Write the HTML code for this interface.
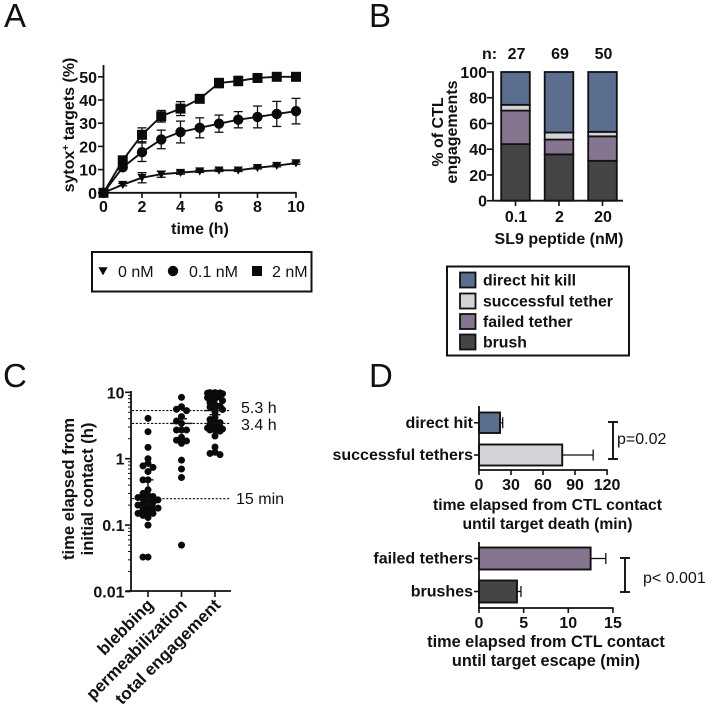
<!DOCTYPE html>
<html lang="en">
<head>
<meta charset="utf-8">
<title>CTL engagement figure</title>
<style>
html,body{margin:0;padding:0;background:#fff;width:707px;height:707px;overflow:hidden}
svg{display:block;font-family:"Liberation Sans",Arial,sans-serif;fill:#111;filter:blur(0.35px)}
.b{font-weight:bold;font-size:16px}
.r{font-size:16px}
.p{font-size:33px}
.ct{font-weight:bold;font-size:16.6px}
.cx{font-weight:bold;font-size:17px}
.d1{font-weight:bold;font-size:15.7px}
.d2{font-weight:bold;font-size:16.3px}
</style>
</head>
<body>
<svg id="fig" width="707" height="707" viewBox="0 0 707 707" xmlns="http://www.w3.org/2000/svg">
  <text class="p" x="4" y="27">A</text>
  <text class="p" x="369" y="27">B</text>
  <text class="p" x="3" y="387">C</text>
  <text class="p" x="369" y="387">D</text>
  <g id="panelA"></g>
  <g id="panelB"></g>
  <g id="panelC"></g>
  <g id="panelD1"></g>
  <g id="panelD2"></g>
</svg>
<script>
/* Panel A data */
const timeHours = [0,1,2,3,4,5,6,7,8,9,10];
const a0nM = [0,3.5,6.5,8,8.7,9.3,9.7,9.7,10.8,11.7,12.8];
const a0nMErr = [0,0.5,2.2,1.3,0.7,0.5,0.5,0.5,0.5,0.5,0.5];
const a01nM = [0,11,17.5,23,26.2,28,29.8,31.5,32.7,34,35.2];
const a01nMErr = [0,1,4,4,4.7,4.3,3.7,3.5,4.7,5.4,5.5];
const a2nM = [0,14,25,33,36.3,40.5,47.3,48.2,49.5,50,50];
const a2nMErr = [0,1.5,3,2.5,3,0.5,2,2,1.5,0.8,0.5];
const aXTicks = [0,2,4,6,8,10];
const aYTicks = [0,10,20,30,40,50];

/* Panel B data */
const bCategories = ["0.1","2","20"];
const bCounts = ["27","69","50"];
const bBrush = [44,36,31];
const bFailed = [26,11.5,19];
const bSuccessful = [4.5,5.5,3.5];
const bDirect = [25.5,47,46.5];
const bYTicks = [0,20,40,60,80,100];

/* Panel C data */
const cCategories = ["blebbing","permeabilization","total engagement"];
const cBlebbing = [4.05,2.55,1.48,1,0.85,0.78,0.74,0.64,0.48,0.48,0.34,0.3,0.28,0.27,0.26,0.25,0.24,0.23,0.22,0.21,0.2,0.19,0.18,0.18,0.17,0.16,0.15,0.15,0.14,0.13,0.1,0.033,0.033];
const cPermeabilization = [8.4,6.07,5.55,5.3,4.3,3.7,3.4,2.7,2.7,2.7,2.1,1.9,1.85,1.7,0.95,0.7,0.52,0.05];
const cTotal = [9.9,9.9,9.8,9.7,9.5,9,8.7,8.5,8.3,8,7.5,7,6.5,6.2,6,5.8,5.5,5,4.2,3.9,3.6,3.5,3.3,3.1,3,2.9,2.8,2.7,2.7,2.6,2.2,1.5,1.25,1.2,1.15];
const cMeans = [0.25,3.4,5.3];
const cErrLow = [0.2,2.9,4.6];
const cErrHigh = [0.48,4,6];
const cDecades = [0.01,0.1,1,10];
const cDecadeLabels = ["0.01","0.1","1","10"];
const cRefValues = [5.3,3.4,0.25];
const cRefLabels = ["5.3 h","3.4 h","15 min"];

/* Panel D data */
const d1Labels = ["direct hit","successful tethers"];
const d1Values = [19.7,78];
const d1Err = [2.5,29];
const d1Ticks = [0,30,60,90,120];
const d2Labels = ["failed tethers","brushes"];
const d2Values = [12.5,4.25];
const d2Err = [1.7,0.45];
const d2Ticks = [0,5,10,15];

const NS = "http://www.w3.org/2000/svg";
function mk(parent, tag, attrs, txt) {
  const el = document.createElementNS(NS, tag);
  for (const k in attrs) el.setAttribute(k, attrs[k]);
  if (txt !== undefined) el.textContent = txt;
  parent.appendChild(el);
  
  return el;
}
function ln(parent, x1, y1, x2, y2, w, extra) {
  return mk(parent, "line", Object.assign({x1, y1, x2, y2, stroke: "#111", "stroke-width": w || 1.7}, extra || {}));
}
function tx(parent, x, y, s, cls, anchor, rot) {
  const a = {x, y, class: cls, "text-anchor": anchor || "start"};
  if (rot !== undefined) a.transform = "rotate(" + rot + " " + x + " " + y + ")";
  return mk(parent, "text", a, s);
}
let el;

/* ---------- Panel A ---------- */
const gA = document.getElementById("panelA");
const axX = v => 103.5 + v * 19.25;
const axY = v => 192.8 - v * 2.32;
el = ln(gA, axX(0), 65, axX(0), 193.6, 1.8);

el = ln(gA, 98, 192.8, axX(10) + 0.7, 192.8, 1.8);

aXTicks.forEach(t => {
  el = ln(gA, axX(t), 193, axX(t), 198, 1.6);
  
  el = tx(gA, axX(t), 212, String(t), "b", "middle");
  
});
aYTicks.forEach(t => {
  el = ln(gA, 98, axY(t), 103.5, axY(t), 1.6);
  
  el = tx(gA, 97, axY(t) + 6, String(t), "b", "end");
  
});
el = tx(gA, 200, 234, "time (h)", "b", "middle");

el = mk(gA, "text", {x: 74, y: 125, class: "b", "text-anchor": "middle", transform: "rotate(-90 74 125)"});

el.appendChild(document.createTextNode("sytox"));
const sup = document.createElementNS(NS, "tspan");
sup.setAttribute("dy", "-5");
sup.setAttribute("font-size", "10");
sup.textContent = "+";


el.appendChild(sup);
const rest = document.createElementNS(NS, "tspan");
rest.setAttribute("dy", "5");
rest.textContent = " targets (%)";


el.appendChild(rest);

function marker(parent, kind, x, y) {
  if (kind === "square") return mk(parent, "rect", {x: x - 5, y: y - 5, width: 10, height: 10, fill: "#0a0a0a"});
  if (kind === "circle") return mk(parent, "circle", {cx: x, cy: y, r: 5.2, fill: "#0a0a0a"});
  return mk(parent, "polygon", {points: (x - 4.6) + "," + (y - 3.8) + " " + (x + 4.6) + "," + (y - 3.8) + " " + x + "," + (y + 4.4), fill: "#0a0a0a"});
}
function series(values, errs, kind, name) {
  const g = mk(gA, "g", {});
  
  const pts = values.map((v, i) => axX(timeHours[i]) + "," + axY(v)).join(" ");
  el = mk(g, "polyline", {points: pts, fill: "none", stroke: "#111", "stroke-width": 1.9});
  
  values.forEach((v, i) => {
    const x = axX(timeHours[i]);
    if (errs[i] > 0) {
      el = ln(g, x, axY(v - errs[i]), x, axY(v + errs[i]), 1.3);
      
      el = ln(g, x - 4.5, axY(v + errs[i]), x + 4.5, axY(v + errs[i]), 1.3);
      
      el = ln(g, x - 4.5, axY(v - errs[i]), x + 4.5, axY(v - errs[i]), 1.3);
      
    }
    el = marker(g, kind, x, axY(v));
    
  });
}
series(a0nM, a0nMErr, "tri", "series-0-nm");
series(a01nM, a01nMErr, "circle", "series-0-1-nm");
series(a2nM, a2nMErr, "square", "series-2-nm");

el = mk(gA, "rect", {x: 92, y: 252, width: 219.5, height: 39.5, fill: "#fff", stroke: "#111", "stroke-width": 2});

el = marker(gA, "tri", 103, 271);

el = tx(gA, 118, 277, "0 nM", "r");

el = marker(gA, "circle", 173, 271);

el = tx(gA, 189, 277, "0.1 nM", "r");

el = marker(gA, "square", 257, 271);

el = tx(gA, 272, 277, "2 nM", "r");


/* ---------- Panel B ---------- */
const gB = document.getElementById("panelB");
const bxY = v => 200.7 - v * 1.287;
const bxC = i => 515.5 + i * 43.5;
const colDirect = "#5b6e8f", colSucc = "#d4d4d8", colFail = "#85758f", colBrush = "#454545";
bCategories.forEach((c, i) => {
  const cx = bxC(i);
  const stack = [[bBrush[i], colBrush], [bFailed[i], colFail], [bSuccessful[i], colSucc], [bDirect[i], colDirect]];
  let base = 0;
  stack.forEach(s => {
    el = mk(gB, "rect", {x: cx - 14.3, y: bxY(base + s[0]), width: 28.6, height: s[0] * 1.287, fill: s[1], stroke: "#111", "stroke-width": 1.8});
    
    base += s[0];
  });
  el = ln(gB, cx, 200.7, cx, 206, 1.6);
  
  el = tx(gB, cx + 0.5, 222, c, "b", "middle");
  
  el = tx(gB, cx + 1, 59, bCounts[i], "b", "middle");
  
});
el = tx(gB, 482, 59, "n:", "b");

el = ln(gB, 493, 71.2, 493, 201.5, 1.8);

el = ln(gB, 493, 200.7, 623, 200.7, 1.8);

bYTicks.forEach(t => {
  el = ln(gB, 487, bxY(t), 493, bxY(t), 1.6);
  
  el = tx(gB, 487, bxY(t) + 6, String(t), "b", "end");
  
});
el = tx(gB, 443, 132, "% of CTL", "b", "middle", -90);

el = tx(gB, 457, 132, "engagements", "b", "middle", -90);

el = tx(gB, 559, 244, "SL9 peptide (nM)", "b", "middle");


el = mk(gB, "rect", {x: 447, y: 266.5, width: 182, height: 89, fill: "#fff", stroke: "#111", "stroke-width": 2});

const legendRows = [["direct hit kill", colDirect, 272.5], ["successful tether", colSucc, 293.5], ["failed tether", colFail, 314], ["brush", colBrush, 334.5]];
legendRows.forEach(r => {
  el = mk(gB, "rect", {x: 460, y: r[2], width: 15.5, height: 15, fill: r[1], stroke: "#111", "stroke-width": 1.8});
  
  el = tx(gB, 483, r[2] + 13, r[0], "b");
  el.setAttribute("style", "font-size:15.8px");
  
});

/* ---------- Panel C ---------- */
const gC = document.getElementById("panelC");
const cxY = v => 458.7 - Math.log10(v) * 66.4;
const cxC = i => 148 + i * 33.5;
el = ln(gC, 131, 391, 131, 592, 1.8);

el = ln(gC, 126, 591, 231, 591, 1.8);

cDecades.forEach((d, i) => {
  el = ln(gC, 125, cxY(d), 131, cxY(d), 1.6);
  
  el = tx(gC, 124.5, cxY(d) + 6, cDecadeLabels[i], "b", "end");
  
  if (i < cDecades.length - 1) {
    for (let m = 2; m < 10; m++) {
      el = ln(gC, 128, cxY(d * m), 131, cxY(d * m), 1);
      
    }
  }
});
cCategories.forEach((c, i) => {
  el = ln(gC, cxC(i), 591, cxC(i), 597, 1.6);
  
  el = tx(gC, cxC(i) + 6.5, 606, c, "cx", "end", -45);
  
});
function swarm(values, colIndex, slots, minGap) {
  const placed = [];
  values.slice().sort((a, b) => b - a).forEach(v => {
    const y = cxY(v);
    let off = 0, best = -1;
    for (const s of slots) {
      const gap = placed.length ? Math.min(...placed.map(p => Math.hypot(p[0] - s, p[1] - y))) : 99;
      if (gap >= minGap) { off = s; best = 99; break; }
      if (gap > best) { best = gap; off = s; }
    }
    placed.push([off, y]);
    el = mk(gC, "circle", {cx: cxC(colIndex) + off, cy: y, r: 3.5, fill: "#0a0a0a"});
    
  });
}
swarm(cBlebbing, 0, [0, -5, 5, -10, 10], 4.6);
swarm(cPermeabilization, 1, [0, -5, 5], 5);
swarm(cTotal, 2, [0, -5, 5, -7.5, 7.5], 4.2);
cMeans.forEach((m, i) => {
  const x = cxC(i);
  el = ln(gC, x - 11, cxY(m), x + 11, cxY(m), 1.4);
  
  el = ln(gC, x, cxY(cErrHigh[i]), x, cxY(cErrLow[i]), 1.4);
  
  el = ln(gC, x - 5.5, cxY(cErrHigh[i]), x + 5.5, cxY(cErrHigh[i]), 1.4);
  
  el = ln(gC, x - 5.5, cxY(cErrLow[i]), x + 5.5, cxY(cErrLow[i]), 1.4);
  
});
cRefValues.forEach((v, i) => {
  el = ln(gC, 132, cxY(v), 230, cxY(v), 1.1, {"stroke-dasharray": "2.2 1.6"});
  
});
el = tx(gC, 241, 413, cRefLabels[0], "r");

el = tx(gC, 241, 430, cRefLabels[1], "r");

el = tx(gC, 236, 504, cRefLabels[2], "r");

el = tx(gC, 74, 489, "time elapsed from", "ct", "middle", -90);

el = tx(gC, 93, 489, "initial contact (h)", "ct", "middle", -90);


/* ---------- Panel D ---------- */
function hbars(g, opts) {
  const X = opts.xf;
  opts.values.forEach((v, i) => {
    const y0 = opts.bars[i][0], y1 = opts.bars[i][1], yc = (y0 + y1) / 2;
    el = ln(g, X(v), yc, X(v + opts.errs[i]), yc, 1.3);
    
    el = ln(g, X(v + opts.errs[i]), yc - 5.5, X(v + opts.errs[i]), yc + 5.5, 1.3);
    
    el = mk(g, "rect", {x: X(0), y: y0, width: X(v) - X(0), height: y1 - y0, fill: opts.colors[i], stroke: "#111", "stroke-width": 1.9});
    
    el = ln(g, 474, yc, 479, yc, 1.6);
    
    el = tx(g, 473, yc + 5, opts.labels[i], "b", "end");
    
  });
  el = ln(g, 479, opts.yTop, 479, opts.axisY + 1, 1.8);
  
  el = ln(g, 478, opts.axisY, X(opts.ticks[opts.ticks.length - 1]) + 0.7, opts.axisY, 1.8);
  
  opts.ticks.forEach(t => {
    el = ln(g, X(t), opts.axisY, X(t), opts.axisY + 5, 1.6);
    
    el = tx(g, X(t), opts.tickY, String(t), "b", "middle");
    
  });
}
const gD1 = document.getElementById("panelD1");
hbars(gD1, {xf: v => 479 + v * 1.067, values: d1Values, errs: d1Err, labels: d1Labels, ticks: d1Ticks,
  bars: [[412.5,433],[444.5,465.5]], colors: [colDirect, colSucc], yTop: 406, axisY: 470, tickY: 490});
el = tx(gD1, 547.5, 510, "time elapsed from CTL contact", "d1", "middle");

el = tx(gD1, 547.5, 529, "until target death (min)", "d1", "middle");

el = ln(gD1, 613, 422, 613, 459, 1.9);

el = ln(gD1, 608, 422, 618, 422, 1.9);

el = ln(gD1, 608, 459, 618, 459, 1.9);

el = tx(gD1, 617, 444, "p=0.02", "r");


const gD2 = document.getElementById("panelD2");
hbars(gD2, {xf: v => 479 + v * 8.93, values: d2Values, errs: d2Err, labels: d2Labels, ticks: d2Ticks,
  bars: [[547.5,569.5],[580.5,602.5]], colors: [colFail, colBrush], yTop: 542, axisY: 608, tickY: 628});
el = tx(gD2, 546, 647, "time elapsed from CTL contact", "d2", "middle");

el = tx(gD2, 546, 666, "until target escape (min)", "d2", "middle");

el = ln(gD2, 625, 558, 625, 592, 1.9);

el = ln(gD2, 620, 558, 630, 558, 1.9);

el = ln(gD2, 620, 592, 630, 592, 1.9);

el = tx(gD2, 643, 583, "p< 0.001", "r");

</script>
</body>
</html>
